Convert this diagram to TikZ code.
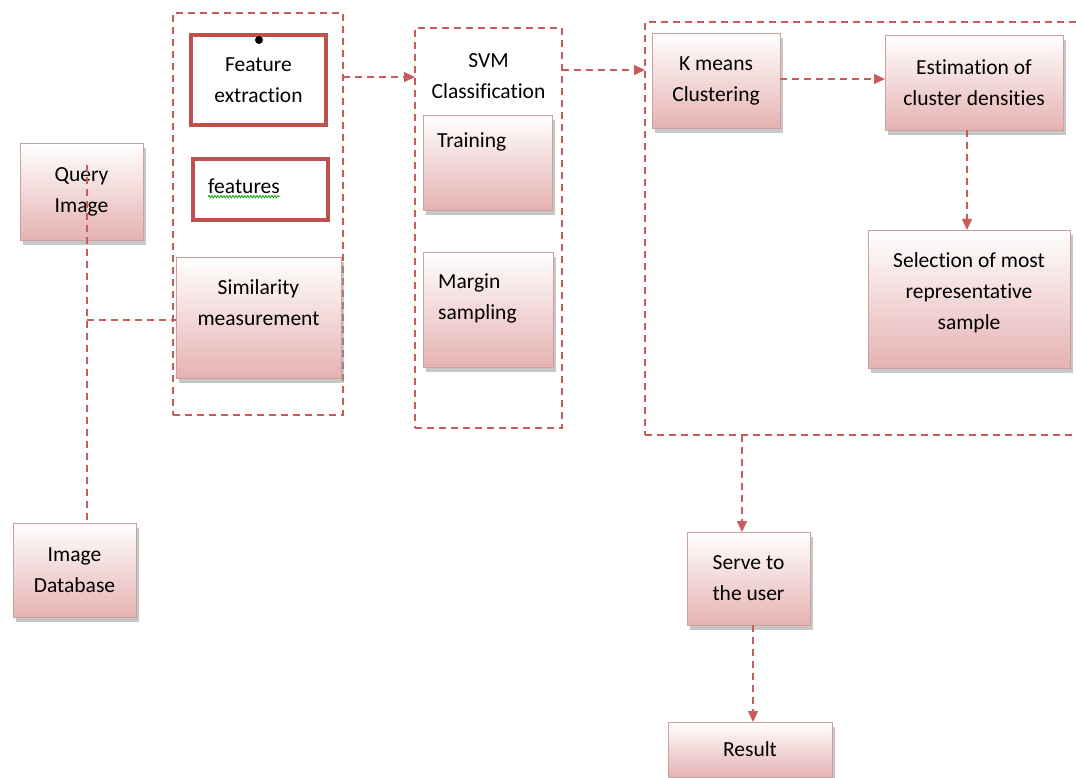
\documentclass[tikz,border=0pt]{standalone}
\usepackage{fontspec}
\setmainfont[Ligatures={NoCommon,NoContextual,NoRare},Contextuals=NoAlternate]{Carlito}
\usetikzlibrary{arrows.meta,shadows,decorations.pathmorphing,calc}
\definecolor{dred}{RGB}{200,92,90}
\definecolor{thickred}{RGB}{192,80,77}
\definecolor{bord}{RGB}{205,160,160}
\definecolor{pinkb}{RGB}{230,178,178}
\newcommand\diafont{\fontsize{21.5}{31}\selectfont}
\newcommand\tiX{t\kern0pt i}
\tikzset{
  dsh/.style={draw=dred, line width=1.4pt, dash pattern=on 7pt off 5pt},
  arr/.style={dsh, -{Triangle[length=11pt,width=10pt]}},
  grp/.style={dsh, line width=1.2pt, inner sep=0pt, outer sep=0pt},
  sbox/.style={draw=bord, line width=0.8pt, top color=white, bottom color=pinkb,
    drop shadow={shadow xshift=3pt, shadow yshift=-5pt, fill=black!40, opacity=0.55},
    inner sep=0pt, outer sep=0pt, align=center, font=\diafont, text=black},
  tbox/.style={draw=thickred, line width=4pt, fill=white, inner sep=0pt, outer sep=0pt,
    align=center, font=\diafont, text=black},
  txt/.style={align=center, font=\diafont, inner sep=0pt, text=black}
}
\begin{document}
\begin{tikzpicture}[x=1pt,y=-1pt]
\useasboundingbox (0,0) rectangle (1076,778);
% groups
\node[grp, minimum width=170pt, minimum height=402pt] (g1) at (258,214) {};
\node[grp, minimum width=147pt, minimum height=400pt] (svmg) at (488.5,228) {};
\node[grp, minimum width=441pt, minimum height=413pt] (rgrp) at (865.5,228.5) {};
% left boxes
\node[sbox, minimum width=123pt, minimum height=97pt] (qimg) at (81.5,191.5) {Query\\Image};
\node[sbox, minimum width=123pt, minimum height=94pt] (imgdb) at (74.5,570) {Image\\Database};
\node[tbox, minimum width=135pt, minimum height=90pt] (featx) at (258.5,80) {Feature\\extraction};
\fill (259,40) circle (4pt);
\node[tbox, minimum width=135pt, minimum height=61pt] (feats) at (260.5,189.5) {};
\node[txt, anchor=west] (featst) at (208,186) {features};
\draw[green!60!black, line width=0.7pt, decorate, decoration={snake, amplitude=1.2pt, segment length=3pt}] (featst.south west) ++(0,3) coordinate (sqa) -- (sqa -| featst.south east);
\node[sbox, minimum width=165pt, minimum height=121pt] (simm) at (258.5,317.5) {};
\node[txt] (simmt) at (258.5,303) {Similarity\\measurement};
% SVM group
\node[txt] (svmt) at (488.5,76) {SVM\\Classifica\tiX on};
\node[sbox, minimum width=129pt, minimum height=95pt] (train) at (487.5,162.5) {};
\node[txt, anchor=west] (traint) at (437,142) {Training};
\node[sbox, minimum width=130pt, minimum height=115pt] (margin) at (488,309.5) {};
\node[txt, anchor=west, align=left] (margint) at (438,298) {Margin\\sampling};
% right group
\node[sbox, minimum width=128pt, minimum height=95pt] (kmeans) at (716,80.5) {K means\\Clustering};
\node[sbox, minimum width=178pt, minimum height=95pt] (estim) at (974,82.5) {Estima\tiX on of\\cluster densi\tiX es};
\node[sbox, minimum width=202pt, minimum height=138pt] (select) at (969,299) {};
\node[txt] (selectt) at (969,293) {Selection of most\\representa\tiX ve\\sample};
% bottom
\node[sbox, minimum width=123pt, minimum height=93pt] (serve) at (748.5,578.5) {Serve to\\the user};
\node[sbox, minimum width=164pt, minimum height=55pt] (result) at (750,749.5) {Result};
% connectors
\coordinate (qs) at (87,165);
\draw[dsh] (qs) -- (qs |- imgdb.north);
\draw[dsh] (qs |- 0,320) -- (simm.west |- 0,320);
\draw[arr] (g1.east |- 0,77) -- (svmg.west |- 0,77);
\draw[arr] (svmg.east |- 0,70) -- (rgrp.west |- 0,70);
\draw[arr] (kmeans.east |- 0,79) -- (estim.west |- 0,79);
\draw[arr] (967,0 |- estim.south) -- (967,0 |- select.north);
\draw[arr] (742,0 |- rgrp.south) -- (742,0 |- serve.north);
\draw[arr] (753,0 |- serve.south) -- (753,0 |- result.north);
\end{tikzpicture}
\end{document}
